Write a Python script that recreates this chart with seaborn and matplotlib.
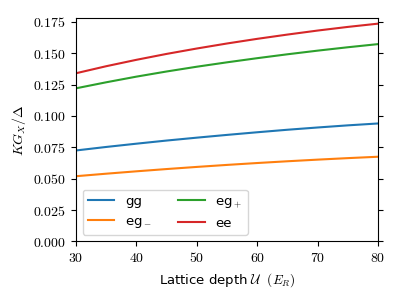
import pandas as pd
import matplotlib
matplotlib.use("Agg")
import matplotlib.pyplot as plt
import matplotlib.ticker as mticker
import seaborn as sns

depth = [30, 35, 40, 45, 50, 55, 60, 65, 70, 75, 80]
gg = [0.0725, 0.0753, 0.0779, 0.0804, 0.0827, 0.0849, 0.0870, 0.0890, 0.0908, 0.0925, 0.0940]
eg_minus = [0.0520, 0.0540, 0.0559, 0.0577, 0.0594, 0.0610, 0.0625, 0.0639, 0.0652, 0.0664, 0.0675]
eg_plus = [0.1220, 0.1268, 0.1313, 0.1354, 0.1392, 0.1427, 0.1460, 0.1491, 0.1520, 0.1547, 0.1572]
ee = [0.1340, 0.1396, 0.1447, 0.1494, 0.1537, 0.1577, 0.1614, 0.1648, 0.1680, 0.1709, 0.1735]
labels = ["gg", "eg$_-$", "eg$_+$", "ee"]

rows = []
for lab, vals in zip(labels, [gg, eg_minus, eg_plus, ee]):
    for d, v in zip(depth, vals):
        rows.append({"depth": d, "val": v, "state": lab})
df = pd.DataFrame(rows)

plt.rcParams["mathtext.fontset"] = "cm"
plt.rcParams["font.family"] = ["DejaVu Sans"]

fig, ax = plt.subplots(figsize=(4, 3), dpi=100)
sns.lineplot(data=df, x="depth", y="val", hue="state", hue_order=labels,
             palette="tab10", ax=ax, linewidth=1.5)

ax.set_xlim(30, 80)
ax.set_ylim(0, 0.178)
ax.yaxis.set_major_locator(mticker.MultipleLocator(0.025))
ax.xaxis.set_major_locator(mticker.MultipleLocator(10))
ax.yaxis.set_major_formatter(mticker.FuncFormatter(lambda v, p: "$%.3f$" % v))
ax.xaxis.set_major_formatter(mticker.FuncFormatter(lambda v, p: "$%d$" % v))
ax.tick_params(right=True, labelsize=10)
ax.set_xlabel(r"Lattice depth $\mathcal{U}\ \ (E_R)$", fontsize=9.5)
ax.set_ylabel(r"$K G_X/\Delta$", fontsize=10)
ax.legend(loc="lower left", ncol=2, fontsize=9.5, title=None)

fig.subplots_adjust(left=0.19, right=0.945, top=0.94, bottom=0.195)
fig.savefig("out.png", dpi=100)
